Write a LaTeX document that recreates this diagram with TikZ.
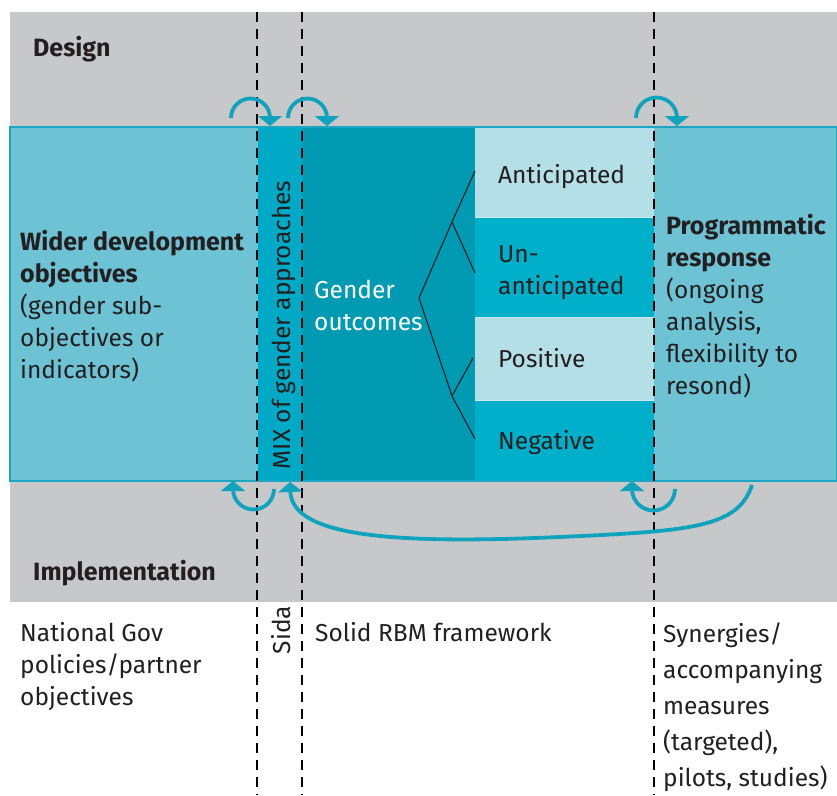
\documentclass[tikz,border=0pt]{standalone}
\usepackage{fontspec}
\setmainfont{Fira Sans}
\usetikzlibrary{arrows.meta}
\definecolor{bggray}{HTML}{C7C8CA}
\definecolor{lteal}{HTML}{6DC3D4}
\definecolor{mixteal}{HTML}{00AAC6}
\definecolor{outteal}{HTML}{009AB3}
\definecolor{paleteal}{HTML}{B5DFE7}
\definecolor{boxteal}{HTML}{00AFC9}
\definecolor{edgeteal}{HTML}{1AA6C0}
\definecolor{arrteal}{HTML}{0FA3BE}
\definecolor{txt}{HTML}{231F20}
\tikzset{
  lbl/.style={anchor=base west, inner sep=0pt, font=\fontsize{24.5}{32}\selectfont, text=txt},
  lblb/.style={lbl, font=\fontsize{25}{32}\selectfont\bfseries},
  wlbl/.style={lbl, text=white},
  divider/.style={line width=2.6pt, dash pattern=on 10pt off 7pt, black},
  loop/.style={arrteal, line width=3.8pt, -{Triangle[width=24pt,length=10pt]}},
  tree/.style={txt, line width=1.1pt}
}
\begin{document}
\begin{tikzpicture}[x=1pt,y=-1pt]
\useasboundingbox (0,0) rectangle (837,795);
% backgrounds
\fill[bggray] (10,12) rectangle (837,602);
\fill[lteal] (10,127) rectangle (258,481);
\fill[mixteal] (258,127) rectangle (302,481);
\fill[outteal] (302,127) rectangle (475,481);
\fill[paleteal] (475,127) rectangle (654,217);
\fill[boxteal] (475,217) rectangle (654,317);
\fill[paleteal] (475,317) rectangle (654,400);
\fill[boxteal] (475,400) rectangle (654,481);
\fill[lteal] (654,127) rectangle (837,481);
\draw[edgeteal, line width=1.2pt] (10,127) rectangle (837,481);
\draw[white!80!outteal, line width=0.6pt] (475,217) -- (654,217) (475,317) -- (654,317) (475,400) -- (654,400);

% dashed dividers
\coordinate (d1t) at (257,12); \coordinate (d1b) at (257,795);
\coordinate (d2t) at (302,12); \coordinate (d2b) at (302,795);
\coordinate (d3t) at (654,12); \coordinate (d3b) at (654,795);
\draw[divider] (d1t) -- (d1b);
\draw[divider] (d2t) -- (d2b);
\draw[divider] (d3t) -- (d3b);

% tree
\coordinate (root) at (419,298);
\coordinate (bu) at (452,222);
\coordinate (bl) at (452,396);
\coordinate (l1) at (475,171);
\coordinate (l2) at (475,273);
\coordinate (l3) at (473,358);
\coordinate (l4) at (475,439);
\draw[tree] (l1) -- (bu) -- (root) -- (bl) -- (l4);
\draw[tree] (bu) -- (l2);
\draw[tree] (bl) -- (l3);

% top loop arrows
\coordinate (ta1) at (231,118);
\coordinate (ta2) at (288,118);
\coordinate (ta3) at (636,118);
\draw[loop] (ta1) arc[start angle=180, end angle=0, radius=19.5pt] -- ++(0,8);
\draw[loop] (ta2) arc[start angle=180, end angle=0, radius=19.5pt] -- ++(0,8);
\draw[loop] (ta3) arc[start angle=180, end angle=0, radius=20.5pt] -- ++(0,8);

% bottom U arrows
\coordinate (ba1) at (274,489);
\coordinate (ba3) at (675,489);
\draw[loop] (ba1) arc[start angle=0, end angle=-180, radius=20.5pt] -- ++(0,-8);
\draw[loop] (ba3) arc[start angle=0, end angle=-180, radius=21.5pt] -- ++(0,-8);

% long return arrow
\coordinate (lr1) at (752,485);
\coordinate (lrm) at (560,537);
\coordinate (lr2) at (290,482);
\draw[loop] (lr1) .. controls (738,528) and (690,531) .. (lrm) .. controls (400,544) and (292,538) .. (lr2);

% labels
\node[lblb] (design) at (33,56) {Design};
\node[lblb] (impl) at (33,580) {Implementation};

\node[lblb] (w1) at (20,250) {Wider development};
\node[lblb] (w2) at (20,282) {objectives};
\node[lbl] (w3) at (20,314) {(gender sub-};
\node[lbl] (w4) at (20,346) {objectives or};
\node[lbl] (w5) at (20,378) {indicators)};

\node[lbl, rotate=90, anchor=base] (mix) at (290,325) {MIX of gender approaches};

\node[wlbl] (g1) at (314,298) {Gender};
\node[wlbl] (g2) at (314,330) {outcomes};

\node[lbl] (ant) at (498,183) {Anticipated};
\node[lbl] (un1) at (498,262) {Un-};
\node[lbl] (un2) at (498,294) {anticipated};
\node[lbl] (pos) at (498,367) {Positive};
\node[lbl] (neg) at (498,449) {Negative};

\node[lblb] (p1) at (666,234) {Programmatic};
\node[lblb] (p2) at (666,266) {response};
\node[lbl] (p3) at (666,298) {(ongoing};
\node[lbl] (p4) at (666,330) {analysis,};
\node[lbl] (p5) at (666,362) {flexibility to};
\node[lbl] (p6) at (666,394) {resond)};

\node[lbl] (n1) at (20,641) {National Gov};
\node[lbl] (n2) at (20,673) {policies/partner};
\node[lbl] (n3) at (20,705) {objectives};

\node[lbl, rotate=90, anchor=base] (sida) at (290,630) {Sida};

\node[lbl] (rbm) at (315,641) {Solid RBM framework};

\node[lbl] (s1) at (663,642) {Synergies/};
\node[lbl] (s2) at (663,678) {accompanying};
\node[lbl] (s3) at (663,714) {measures};
\node[lbl] (s4) at (663,750) {(targeted),};
\node[lbl] (s5) at (663,786) {pilots, studies)};
\end{tikzpicture}
\end{document}
